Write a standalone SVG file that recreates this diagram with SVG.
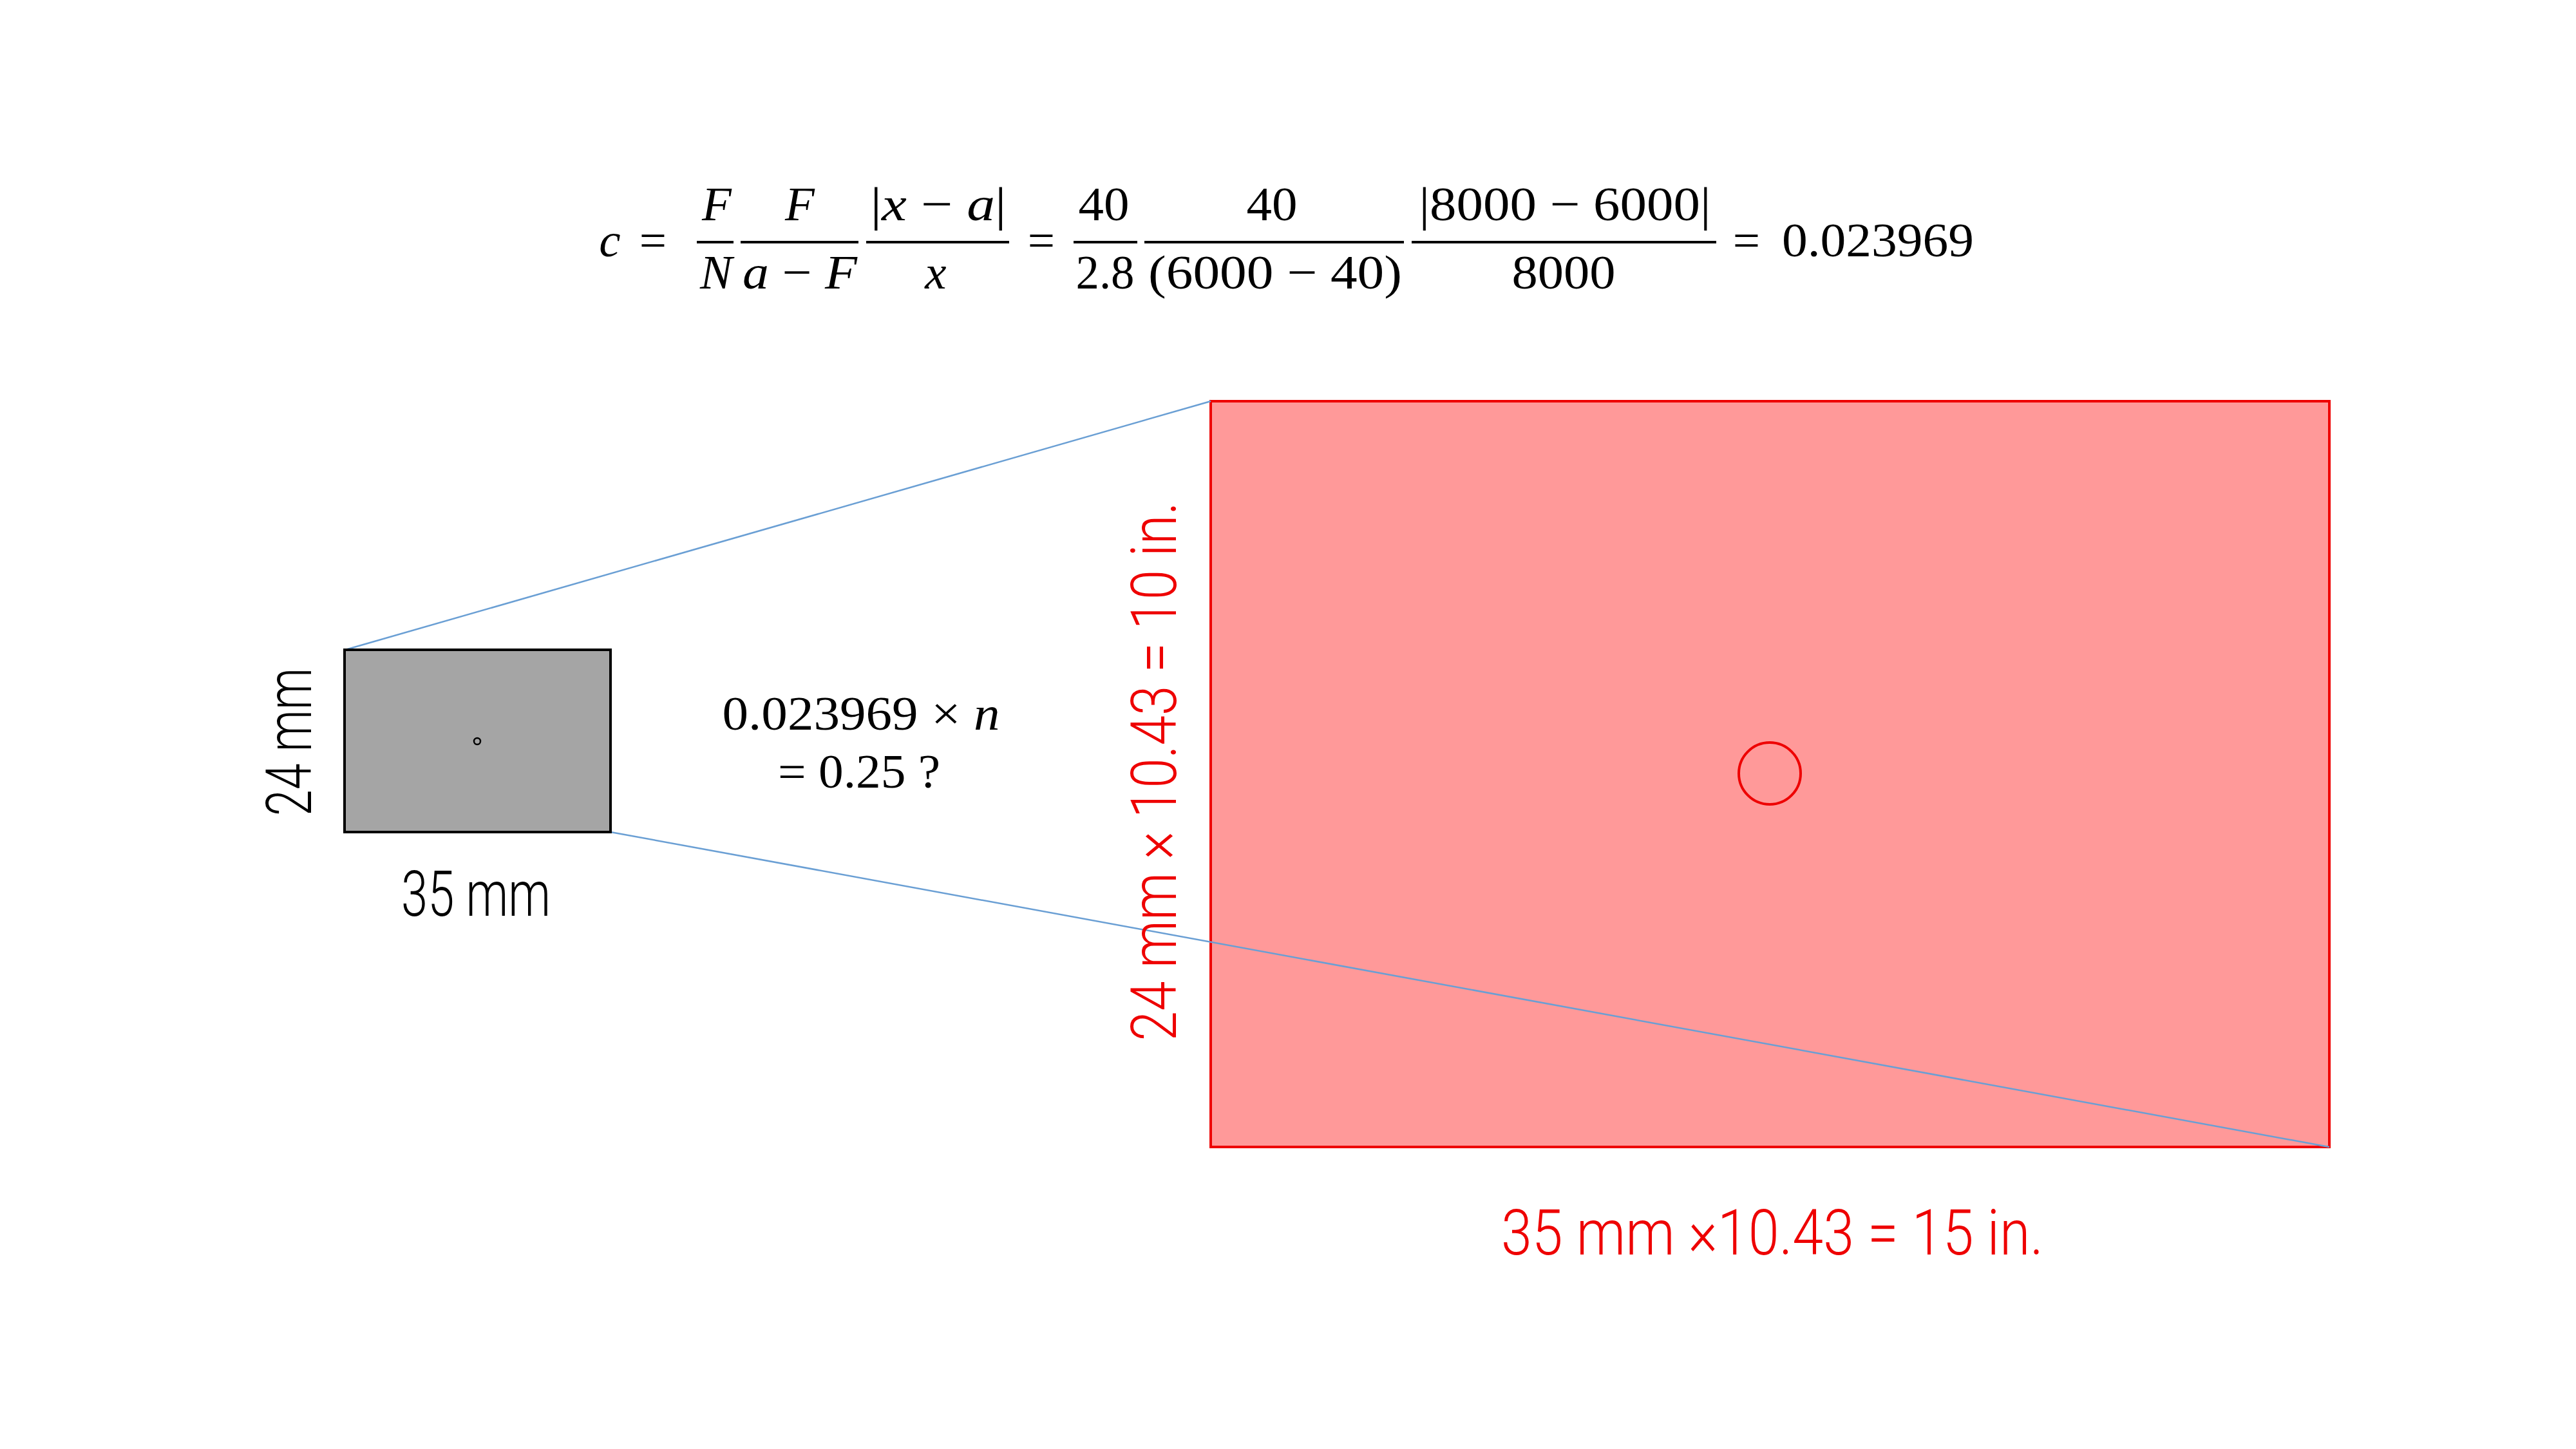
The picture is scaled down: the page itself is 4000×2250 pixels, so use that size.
<svg xmlns="http://www.w3.org/2000/svg" width="4000" height="2250" viewBox="0 0 4000 2250">
<style>
.m{font-family:"Liberation Serif","DejaVu Serif",serif;font-size:75px;fill:#000;text-anchor:middle}
.i{font-style:italic}
.bar{fill:#000}
.lbl{font-family:Roboto,"Liberation Sans",sans-serif;font-weight:300;font-size:98px;text-anchor:middle}
.blk{fill:#000}
.red{fill:#ee0000}
.conn{stroke:#6a9fd4;stroke-width:2.5;fill:none}
</style>
<rect width="4000" height="2250" fill="#fff"/>
<g id="formula">
<text class="m i" x="947" y="398">c</text>
<text class="m" x="1014" y="398">=</text>
<text class="m i" x="1113" y="342">F</text>
<rect class="bar" x="1082" y="374" width="57" height="4"/>
<text class="m i" x="1112" y="448">N</text>
<text class="m i" x="1242" y="342">F</text>
<rect class="bar" x="1150" y="374" width="183" height="4"/>
<text class="m" x="1242" y="448" textLength="178" lengthAdjust="spacingAndGlyphs"><tspan class="i">a</tspan> − <tspan class="i">F</tspan></text>
<text class="m" x="1457" y="342" textLength="211" lengthAdjust="spacingAndGlyphs">|<tspan class="i">x</tspan> − <tspan class="i">a</tspan>|</text>
<rect class="bar" x="1345" y="374" width="222" height="4"/>
<text class="m i" x="1453" y="448">x</text>
<text class="m" x="1617" y="398">=</text>
<text class="m" x="1714" y="342" textLength="79" lengthAdjust="spacingAndGlyphs">40</text>
<rect class="bar" x="1667" y="374" width="99" height="4"/>
<text class="m" x="1716" y="448" textLength="91" lengthAdjust="spacingAndGlyphs">2.8</text>
<text class="m" x="1975" y="342" textLength="79" lengthAdjust="spacingAndGlyphs">40</text>
<rect class="bar" x="1777" y="374" width="403" height="4"/>
<text class="m" x="1980" y="448" textLength="394" lengthAdjust="spacingAndGlyphs">(6000 − 40)</text>
<text class="m" x="2430" y="342" textLength="453" lengthAdjust="spacingAndGlyphs">|8000 − 6000|</text>
<rect class="bar" x="2192" y="374" width="473" height="4"/>
<text class="m" x="2428" y="448" textLength="161" lengthAdjust="spacingAndGlyphs">8000</text>
<text class="m" x="2712" y="398">=</text>
<text class="m" x="2916" y="398" textLength="298" lengthAdjust="spacingAndGlyphs">0.023969</text>
</g>
<g id="print">
<rect x="1880" y="623" width="1737" height="1158" fill="#ff9999" stroke="#ee0000" stroke-width="4"/>
<circle cx="2748" cy="1201" r="48" fill="none" stroke="#ee0000" stroke-width="4"/>
</g>
<g id="connectors">
<line class="conn" x1="536" y1="1009" x2="1880" y2="623"/>
<line class="conn" x1="948" y1="1292" x2="3617" y2="1781"/>
</g>
<g id="sensor">
<rect x="535" y="1009" width="413" height="283" fill="#a5a5a5" stroke="#000" stroke-width="4"/>
<circle cx="741" cy="1151" r="5" fill="none" stroke="#000" stroke-width="2.5"/>
</g>
<g id="labels">
<text class="lbl blk" transform="translate(483,1152) rotate(-90)" textLength="230" lengthAdjust="spacingAndGlyphs">24 mm</text>
<text class="lbl blk" x="739" y="1422" textLength="232" lengthAdjust="spacingAndGlyphs">35 mm</text>
<text class="lbl red" transform="translate(1826,1198) rotate(-90)" textLength="837" lengthAdjust="spacingAndGlyphs">24 mm × 10.43 = 10 in.</text>
<text class="lbl red" x="2752" y="1948" textLength="842" lengthAdjust="spacingAndGlyphs">35 mm ×10.43 = 15 in.</text>
<text class="m" x="1337" y="1133" textLength="431" lengthAdjust="spacingAndGlyphs">0.023969 × <tspan class="i">n</tspan></text>
<text class="m" x="1334" y="1223" textLength="252" lengthAdjust="spacingAndGlyphs">= 0.25 ?</text>
</g>
</svg>
